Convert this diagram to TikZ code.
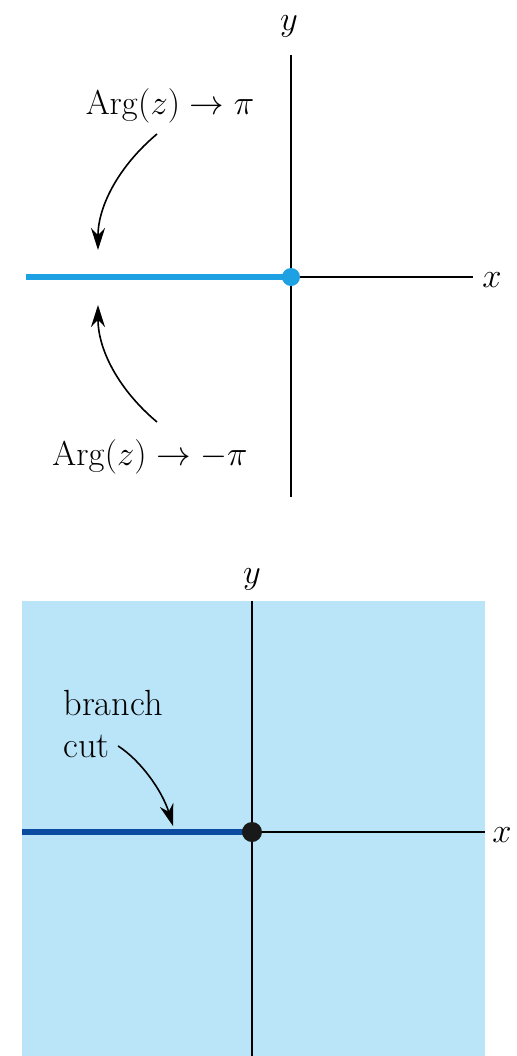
\documentclass[tikz,border=0pt]{standalone}
\usetikzlibrary{arrows.meta}
\definecolor{cutcyan}{RGB}{29,161,226}
\definecolor{cutnavy}{RGB}{12,76,160}
\definecolor{planeblue}{RGB}{186,229,248}
\tikzset{
  axis/.style={line width=0.8pt},
  cutline/.style={line width=3pt},
  axislbl/.style={font=\fontsize{18}{20}\selectfont, inner sep=0pt},
  arglbl/.style={font=\fontsize{18.8}{22}\selectfont, inner sep=0pt},
  cutlbl/.style={font=\fontsize{18.2}{21}\selectfont, inner sep=0pt},
  pointer/.style={line width=0.8pt, -{Stealth[length=11pt,width=7pt]}}
}
\begin{document}
\begin{tikzpicture}[x=0.5pt,y=-0.5pt]
\useasboundingbox (0,0) rectangle (516,1056);
% upper plane: limits of Arg(z) at the negative real axis
\draw[axis] (291,55) -- (291,497);
\draw[axis] (291,277) -- (473,277);
\node[axislbl, anchor=base] (ytop) at (289,30) {$y$};
\node[axislbl, anchor=base] (xtop) at (492,287) {$x$};
\draw[cutline, cutcyan] (26,277) -- (291,277);
\fill[cutcyan] (291,277) circle (9);
\node[arglbl, anchor=base] (argpi) at (170,114) {$\mathrm{Arg}(z)\rightarrow\pi$};
\node[arglbl, anchor=base] (argmpi) at (150,465) {$\mathrm{Arg}(z)\rightarrow -\pi$};
\coordinate (fromA) at (157,134);
\coordinate (tipA) at (98,250);
\coordinate (fromB) at (157,422);
\coordinate (tipB) at (98,305);
\draw[pointer] (fromA) .. controls (120,165) and (98,205) .. (tipA);
\draw[pointer] (fromB) .. controls (120,391) and (98,351) .. (tipB);
% lower plane: principal branch with its cut
\fill[planeblue] (22,601) rectangle (485,1056);
\draw[axis] (252,601) -- (252,1056);
\draw[axis] (252,832) -- (485,832);
\node[axislbl, anchor=base] (ybot) at (252,583) {$y$};
\node[axislbl, anchor=base] (xbot) at (502,842) {$x$};
\draw[cutline, cutnavy] (22,832) -- (252,832);
\fill[black!90] (252,832) circle (10);
\node[cutlbl, anchor=base west] (branch) at (63,715) {branch};
\node[cutlbl, anchor=base west] (cut) at (63,757) {cut};
\coordinate (tipC) at (173,826);
\draw[pointer] ([xshift=4pt]cut.east) .. controls (140,760) and (162,790) .. (tipC);
\end{tikzpicture}
\end{document}
